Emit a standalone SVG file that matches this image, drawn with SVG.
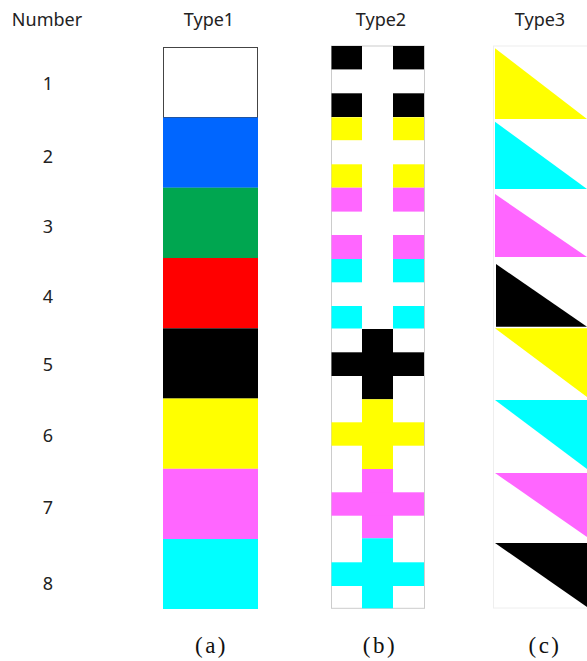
<svg xmlns="http://www.w3.org/2000/svg" width="587" height="661" viewBox="0 0 587 661">
<style>
.t{font-family:"Noto Sans","Noto Sans CJK KR",sans-serif;font-size:18px;fill:#222;text-anchor:middle}
.c{font-family:"Liberation Serif","Noto Serif CJK KR",serif;font-size:23px;fill:#111;text-anchor:middle;letter-spacing:2.5px}
.k{fill:#000}.y{fill:#FFFF00}.m{fill:#FF66FF}.cy{fill:#00FFFF}
</style>
<rect width="587" height="661" fill="#fff"/>
<g id="headers">
<text class="t" x="47" y="26">Number</text>
<text class="t" x="209" y="26">Type1</text>
<text class="t" x="381" y="26">Type2</text>
<text class="t" x="540" y="26">Type3</text>
</g>
<g id="numbers">
<text class="t" x="48" y="90">1</text>
<text class="t" x="48" y="162.5">2</text>
<text class="t" x="48" y="232.5">3</text>
<text class="t" x="48" y="302.5">4</text>
<text class="t" x="48" y="371">5</text>
<text class="t" x="48" y="441.5">6</text>
<text class="t" x="48" y="514">7</text>
<text class="t" x="48" y="590">8</text>
</g>
<g id="type1">
<rect x="163.5" y="47.5" width="94" height="70" fill="#fff" stroke="#444" stroke-width="1"/>
<rect x="163" y="117.5" width="95" height="70.3" fill="#0066FF"/>
<rect x="163" y="187.7" width="95" height="70.3" fill="#00A650"/>
<rect x="163" y="258" width="95" height="70.3" fill="#FF0000"/>
<rect x="163" y="328.3" width="95" height="70.3" fill="#000"/>
<rect x="163" y="398.5" width="95" height="70.3" fill="#FFFF00"/>
<rect x="163" y="468.8" width="95" height="70.3" fill="#FF66FF"/>
<rect x="163" y="539" width="95" height="70" fill="#00FFFF"/>
</g>
<g id="type2">
<rect x="331.5" y="46" width="93" height="562.3" fill="#fff" stroke="#cccccc" stroke-width="1"/>
<g class="k"><rect x="331.5" y="46" width="30.5" height="23.4"/><rect x="393" y="46" width="31" height="23.4"/><rect x="331.5" y="93.3" width="30.5" height="23.7"/><rect x="393" y="93.3" width="31" height="23.7"/></g>
<g class="y"><rect x="331.5" y="117.3" width="30.5" height="22.9"/><rect x="393" y="117.3" width="31" height="22.9"/><rect x="331.5" y="164.3" width="30.5" height="23.4"/><rect x="393" y="164.3" width="31" height="23.4"/></g>
<g class="m"><rect x="331.5" y="187.7" width="30.5" height="23.9"/><rect x="393" y="187.7" width="31" height="23.9"/><rect x="331.5" y="235" width="30.5" height="24"/><rect x="393" y="235" width="31" height="24"/></g>
<g class="cy"><rect x="331.5" y="259" width="30.5" height="23.3"/><rect x="393" y="259" width="31" height="23.3"/><rect x="331.5" y="306" width="30.5" height="22.5"/><rect x="393" y="306" width="31" height="22.5"/></g>
<g class="k"><rect x="362" y="329" width="31" height="70.3"/><rect x="331.5" y="352.3" width="92.5" height="23.7"/></g>
<g class="y"><rect x="362" y="399.3" width="31" height="69.9"/><rect x="331.5" y="422.3" width="92.5" height="23.4"/></g>
<g class="m"><rect x="362" y="469" width="31" height="69.4"/><rect x="331.5" y="492.3" width="92.5" height="23.4"/></g>
<g class="cy"><rect x="362" y="538.3" width="31" height="70"/><rect x="331.5" y="562.3" width="92.5" height="23.7"/></g>
</g>
<g id="type3">
<rect x="493.5" y="46" width="100" height="562" fill="#fff" stroke="#eeeeee" stroke-width="1"/>
<polygon class="y" points="495,48.3 495,119 587,119"/>
<polygon class="cy" points="495,121.7 495,189 587,189"/>
<polygon class="m" points="495,194 495,257 587,257"/>
<polygon class="k" points="496,264 496,326.7 587,326.7"/>
<polygon class="y" points="495,328.3 587,328.3 587,397"/>
<polygon class="cy" points="495,400 587,400 587,469"/>
<polygon class="m" points="495,473 587,473 587,537"/>
<polygon class="k" points="495,543 587,543 587,607"/>
</g>
<g id="captions">
<text class="c" x="211.5" y="653">(a)</text>
<text class="c" x="380" y="653">(b)</text>
<text class="c" x="545" y="653">(c)</text>
</g>
</svg>
